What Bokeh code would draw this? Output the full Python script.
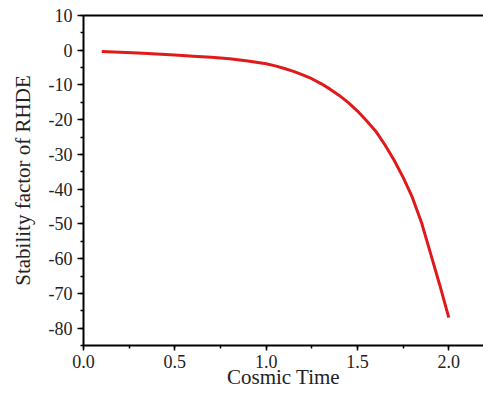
from bokeh.plotting import figure
from bokeh.models import Range1d, SingleIntervalTicker, PrintfTickFormatter, LinearAxis, FixedTicker
from bokeh.embed import file_html
from bokeh.resources import INLINE

# Data
cosmic_time = [0.1, 0.2, 0.3, 0.4, 0.5, 0.6, 0.7, 0.8, 0.9, 1.0, 1.05, 1.1, 1.15,
               1.2, 1.25, 1.3, 1.35, 1.4, 1.45, 1.5, 1.55, 1.6, 1.65, 1.7, 1.75,
               1.8, 1.85, 1.9, 1.95, 2.0]
stability = [-0.35, -0.55, -0.8, -1.05, -1.35, -1.7, -2.05, -2.45, -3.1, -3.9,
             -4.5, -5.25, -6.1, -7.1, -8.2, -9.6, -11.2, -13.0, -15.1, -17.5,
             -20.3, -23.3, -27.2, -31.6, -36.6, -42.3, -49.5, -58.5, -67.5, -77.0]

x_label = "Cosmic Time"
y_label = "Stability factor of RHDE"

FONT = "Liberation Serif"

p = figure(width=483, height=408, output_backend="svg", toolbar_location=None,
           x_range=Range1d(0, 2.19), y_range=Range1d(-85, 10),
           min_border_left=83, min_border_top=15, min_border_bottom=63,
           min_border_right=0)

p.line(cosmic_time, stability, line_color="#e01a1a", line_width=3)

p.xgrid.visible = False
p.ygrid.visible = False
p.outline_line_color = None
p.background_fill_color = "white"
p.border_fill_color = "white"

p.xaxis.ticker = SingleIntervalTicker(interval=0.5, num_minor_ticks=2)
p.yaxis.ticker = SingleIntervalTicker(interval=10, num_minor_ticks=2)
p.xaxis.formatter = PrintfTickFormatter(format="%.1f")
p.yaxis.formatter = PrintfTickFormatter(format="%d")

for ax in (p.xaxis[0], p.yaxis[0]):
    ax.axis_line_width = 2
    ax.axis_line_color = "black"
    ax.major_tick_line_width = 1.5
    ax.minor_tick_line_width = 1.5
    ax.major_tick_in = 0
    ax.minor_tick_in = 0
    ax.major_label_text_font = FONT
    ax.major_label_text_font_size = "18px"
    ax.major_label_text_color = "#222222"
    ax.axis_label_text_font = FONT
    ax.axis_label_text_font_size = "21px"
    ax.axis_label_text_font_style = "normal"
    ax.axis_label_text_color = "#222222"

p.xaxis.axis_label = x_label
p.yaxis.axis_label = y_label
p.xaxis.major_tick_out = 5
p.xaxis.minor_tick_out = 3
p.yaxis.major_tick_out = 6
p.yaxis.minor_tick_out = 3
p.xaxis.major_label_standoff = 4
p.yaxis.major_label_standoff = 5
p.xaxis.axis_label_standoff = -6
p.yaxis.axis_label_standoff = 11

top = LinearAxis(ticker=FixedTicker(ticks=[]), axis_line_width=2, axis_line_color="black",
                 major_tick_line_color=None, minor_tick_line_color=None)
p.add_layout(top, "above")

open("out.html", "w").write(file_html(p, INLINE))
